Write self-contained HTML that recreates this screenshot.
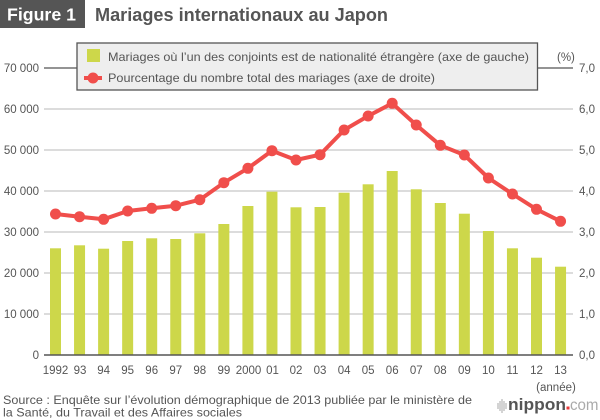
<!DOCTYPE html>
<html><head><meta charset="utf-8"><style>
html,body{margin:0;padding:0;background:#fff;}
svg{display:block;font-family:"Liberation Sans",Arial,sans-serif;}
</style></head><body>
<svg width="600" height="420" viewBox="0 0 600 420" xmlns="http://www.w3.org/2000/svg">
<rect x="0" y="0" width="600" height="420" fill="#fff"/>
<!-- title -->
<rect x="0" y="0" width="85" height="28" fill="#555555"/>
<text x="7" y="20.5" font-size="17.5" font-weight="bold" fill="#fff" textLength="69" lengthAdjust="spacingAndGlyphs">Figure 1</text>
<text x="95" y="21" font-size="18" font-weight="bold" fill="#555" textLength="293" lengthAdjust="spacingAndGlyphs">Mariages internationaux au Japon</text>

<!-- gridlines -->
<g stroke="#c8c8c8" stroke-width="1.2">
<line x1="44" y1="314" x2="573" y2="314"/>
<line x1="44" y1="273" x2="573" y2="273"/>
<line x1="44" y1="232" x2="573" y2="232"/>
<line x1="44" y1="191" x2="573" y2="191"/>
<line x1="44" y1="150" x2="573" y2="150"/>
<line x1="44" y1="109" x2="573" y2="109"/>
</g>
<g stroke="#555" stroke-width="1.2">
<line x1="44" y1="68" x2="78" y2="68"/>
<line x1="537" y1="68" x2="573" y2="68"/>
</g>

<!-- left labels -->
<g font-size="11.5" fill="#555" text-anchor="end">
<text x="39" y="72">70 000</text>
<text x="39" y="113">60 000</text>
<text x="39" y="154">50 000</text>
<text x="39" y="195">40 000</text>
<text x="39" y="236">30 000</text>
<text x="39" y="277">20 000</text>
<text x="39" y="318">10 000</text>
<text x="39" y="359">0</text>
</g>
<!-- right labels -->
<g font-size="11.5" fill="#555">
<text x="579" y="72">7,0</text>
<text x="579" y="113">6,0</text>
<text x="579" y="154">5,0</text>
<text x="579" y="195">4,0</text>
<text x="579" y="236">3,0</text>
<text x="579" y="277">2,0</text>
<text x="579" y="318">1,0</text>
<text x="579" y="359">0,0</text>
<text x="557" y="61">(%)</text>
</g>

<!-- bars -->
<g fill="#cdd74a">
<rect x="50" y="248.3" width="11" height="106.7"/>
<rect x="74.05" y="245.3" width="11" height="109.7"/>
<rect x="98.1" y="248.7" width="11" height="106.3"/>
<rect x="122.15" y="241" width="11" height="114"/>
<rect x="146.2" y="238.3" width="11" height="116.7"/>
<rect x="170.25" y="239" width="11" height="116"/>
<rect x="194.3" y="233.3" width="11" height="121.7"/>
<rect x="218.35" y="224" width="11" height="131"/>
<rect x="242.4" y="206" width="11" height="149"/>
<rect x="266.45" y="191.7" width="11" height="163.3"/>
<rect x="290.5" y="207.3" width="11" height="147.7"/>
<rect x="314.55" y="207" width="11" height="148"/>
<rect x="338.6" y="192.7" width="11" height="162.3"/>
<rect x="362.65" y="184.3" width="11" height="170.7"/>
<rect x="386.7" y="171" width="11" height="184"/>
<rect x="410.75" y="189.3" width="11" height="165.7"/>
<rect x="434.8" y="203" width="11" height="152"/>
<rect x="458.85" y="213.7" width="11" height="141.3"/>
<rect x="482.9" y="231" width="11" height="124"/>
<rect x="506.95" y="248.3" width="11" height="106.7"/>
<rect x="531" y="257.7" width="11" height="97.3"/>
<rect x="555.05" y="266.7" width="11" height="88.3"/>
</g>

<!-- baseline -->
<line x1="44" y1="355" x2="573" y2="355" stroke="#555" stroke-width="1.5"/>

<!-- line series -->
<polyline fill="none" stroke="#f04e4b" stroke-width="4" stroke-linejoin="round"
points="55.5,214 79.55,216.7 103.6,219.3 127.65,211 151.7,208.3 175.75,205.7 199.8,199.7 223.85,182.7 247.9,168.3 271.95,150.7 296,160 320.05,154.7 344.1,130 368.15,116 392.2,103.3 416.25,125 440.3,145.3 464.35,155 488.4,178 512.45,194 536.5,209.3 560.55,221.3"/>
<g fill="#f04e4b">
<circle cx="55.5" cy="214" r="5.5"/>
<circle cx="79.55" cy="216.7" r="5.5"/>
<circle cx="103.6" cy="219.3" r="5.5"/>
<circle cx="127.65" cy="211" r="5.5"/>
<circle cx="151.7" cy="208.3" r="5.5"/>
<circle cx="175.75" cy="205.7" r="5.5"/>
<circle cx="199.8" cy="199.7" r="5.5"/>
<circle cx="223.85" cy="182.7" r="5.5"/>
<circle cx="247.9" cy="168.3" r="5.5"/>
<circle cx="271.95" cy="150.7" r="5.5"/>
<circle cx="296" cy="160" r="5.5"/>
<circle cx="320.05" cy="154.7" r="5.5"/>
<circle cx="344.1" cy="130" r="5.5"/>
<circle cx="368.15" cy="116" r="5.5"/>
<circle cx="392.2" cy="103.3" r="5.5"/>
<circle cx="416.25" cy="125" r="5.5"/>
<circle cx="440.3" cy="145.3" r="5.5"/>
<circle cx="464.35" cy="155" r="5.5"/>
<circle cx="488.4" cy="178" r="5.5"/>
<circle cx="512.45" cy="194" r="5.5"/>
<circle cx="536.5" cy="209.3" r="5.5"/>
<circle cx="560.55" cy="221.3" r="5.5"/>
</g>

<!-- legend -->
<rect x="77" y="43" width="460.5" height="47" fill="#eeeeee" stroke="#555" stroke-width="1.3"/>
<rect x="87" y="49" width="13" height="13" fill="#cdd74a"/>
<text x="108" y="61" font-size="12" fill="#555" textLength="421" lengthAdjust="spacingAndGlyphs">Mariages où l’un des conjoints est de nationalité étrangère (axe de gauche)</text>
<line x1="84" y1="78" x2="102" y2="78" stroke="#f04e4b" stroke-width="4"/>
<circle cx="93" cy="78" r="5.5" fill="#f04e4b"/>
<text x="108" y="82" font-size="12" fill="#555" textLength="327" lengthAdjust="spacingAndGlyphs">Pourcentage du nombre total des mariages (axe de droite)</text>

<!-- x labels -->
<g font-size="11.5" fill="#555" text-anchor="middle">
<text x="55.5" y="374">1992</text>
<text x="80" y="374">93</text>
<text x="103.6" y="374">94</text>
<text x="127.65" y="374">95</text>
<text x="151.7" y="374">96</text>
<text x="175.75" y="374">97</text>
<text x="199.8" y="374">98</text>
<text x="223.85" y="374">99</text>
<text x="248.5" y="374">2000</text>
<text x="272.5" y="374">01</text>
<text x="296" y="374">02</text>
<text x="320.05" y="374">03</text>
<text x="344.1" y="374">04</text>
<text x="368.15" y="374">05</text>
<text x="392.2" y="374">06</text>
<text x="416.25" y="374">07</text>
<text x="440.3" y="374">08</text>
<text x="464.35" y="374">09</text>
<text x="488.4" y="374">10</text>
<text x="512.45" y="374">11</text>
<text x="536.5" y="374">12</text>
<text x="560.55" y="374">13</text>
<text x="556" y="391">(année)</text>
</g>

<!-- source -->
<g font-size="12" fill="#555">
<text x="3" y="404" textLength="469" lengthAdjust="spacingAndGlyphs">Source : Enquête sur l’évolution démographique de 2013 publiée par le ministère de</text>
<text x="3" y="416.5" textLength="239" lengthAdjust="spacingAndGlyphs">la Santé, du Travail et des Affaires sociales</text>
</g>

<!-- logo -->
<g fill="#aaa">
<rect x="497.5" y="403" width="1" height="6"/>
<rect x="499.5" y="401" width="1" height="10"/>
<rect x="501.5" y="399" width="1" height="14"/>
<rect x="503.5" y="401" width="1" height="10"/>
<rect x="505.5" y="403" width="1" height="6"/>
</g>
<text x="508" y="410" font-size="16.5" font-weight="bold" fill="#555" textLength="58" lengthAdjust="spacingAndGlyphs">nippon</text>
<rect x="566.5" y="406.5" width="3" height="3" fill="#e83a3a"/>
<text x="570" y="410" font-size="16" fill="#aaa" textLength="28.5" lengthAdjust="spacingAndGlyphs">com</text>
</svg>
</body></html>
